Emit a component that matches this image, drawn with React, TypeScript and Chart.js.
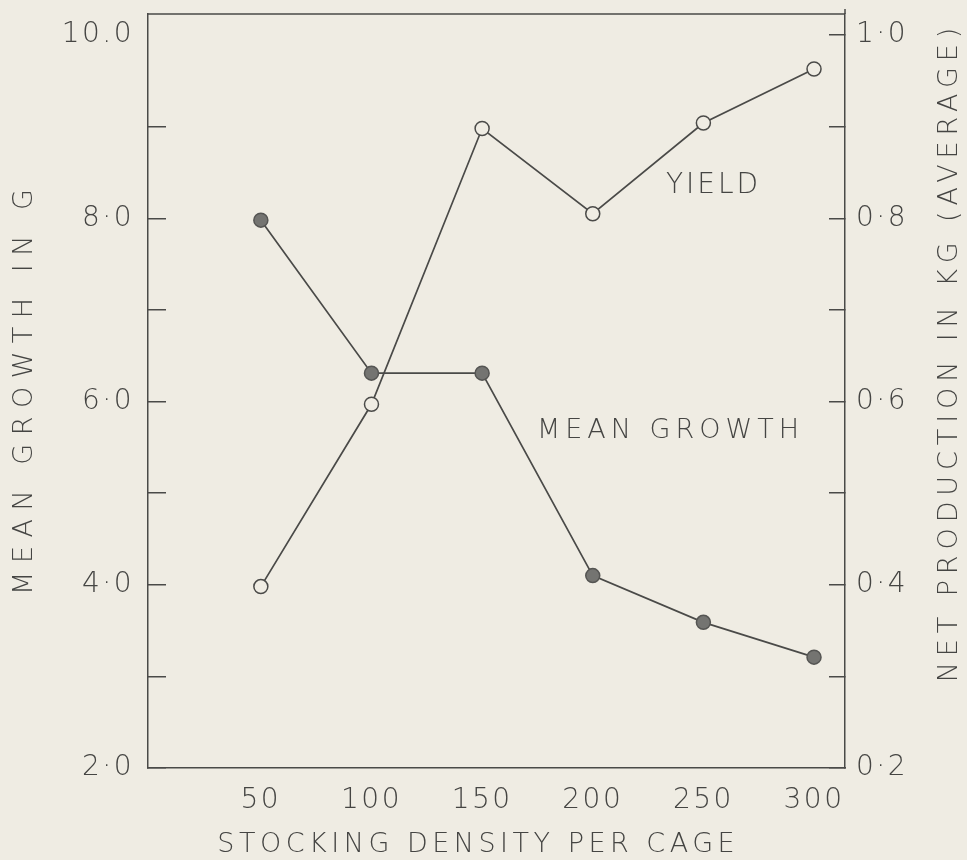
import React, { useEffect, useRef } from 'react';
import { Chart, registerables } from 'chart.js';

Chart.register(...registerables);

// ---- data ----
const density = [50, 100, 150, 200, 250, 300];
const meanGrowth = [7.98, 6.31, 6.31, 4.1, 3.59, 3.21];
const yieldKg = [0.398, 0.597, 0.898, 0.805, 0.904, 0.963];

const xTickValues = [50, 100, 150, 200, 250, 300];
const leftTickValues = [2, 3, 4, 5, 6, 7, 8, 9, 10];
const leftTickLabels = ['2·0', '', '4·0', '', '6·0', '', '8·0', '', '10.0'];
const rightTickValues = [0.2, 0.3, 0.4, 0.5, 0.6, 0.7, 0.8, 0.9, 1.0];
const rightTickLabels = ['0·2', '', '0·4', '', '0·6', '', '0·8', '', '1·0'];

const xTitle = 'STOCKING DENSITY PER CAGE';
const leftTitle = 'MEAN GROWTH IN G';
const rightTitle = 'NET PRODUCTION IN KG (AVERAGE)';
const yieldLabel = 'YIELD';
const growthLabel = 'MEAN GROWTH';

// ---- styles ----
const BG = '#efece3';
const INK = '#4a4a48';
const TEXT = '#454543';
const FONT = '"DejaVu Sans", "Liberation Sans", sans-serif';

const textPlugin = {
  id: 'texts',
  beforeUpdate(chart: any) {
    chart.ctx.letterSpacing = '2.5px';
  },
  beforeDraw(chart: any) {
    const ctx = chart.ctx;
    ctx.save();
    ctx.fillStyle = BG;
    ctx.fillRect(0, 0, chart.width, chart.height);
    ctx.restore();
    ctx.letterSpacing = '2.5px';
  },
  afterDraw(chart: any) {
    const { ctx, chartArea: a } = chart;
    ctx.save();
    ctx.strokeStyle = INK;
    ctx.lineWidth = 1.5;
    ctx.beginPath();
    ctx.moveTo(a.left, a.top);
    ctx.lineTo(a.right, a.top);
    ctx.moveTo(a.right, a.top - 5);
    ctx.lineTo(a.right, a.top);
    ctx.stroke();

    const draw = (t: string, x: number, y: number, size: number, sp: number, rot: number) => {
      ctx.save();
      ctx.translate(x, y);
      ctx.rotate(rot);
      ctx.font = `200 ${size}px ${FONT}`;
      ctx.letterSpacing = `${sp}px`;
      ctx.fillStyle = TEXT;
      ctx.textAlign = 'center';
      ctx.textBaseline = 'middle';
      ctx.fillText(t, sp / 2, 0);
      ctx.restore();
    };
    draw(xTitle, 476, 845, 27, 4.5, 0);
    draw(leftTitle, 25, 392, 27, 8.5, -Math.PI / 2);
    draw(rightTitle, 950, 355, 27, 5.9, -Math.PI / 2);
    draw(yieldLabel, 712, 186, 28, 3, 0);
    draw(growthLabel, 668, 431, 27, 5, 0);
    ctx.restore();
  },
};

export default function App() {
  const ref = useRef<HTMLCanvasElement | null>(null);
  useEffect(() => {
    if (!ref.current) return;
    const tickFont = { family: FONT, size: 28, weight: 200 as any };
    const chart = new Chart(ref.current, {
      type: 'line',
      data: {
        datasets: [
          {
            label: 'Mean growth',
            data: density.map((x, i) => ({ x, y: meanGrowth[i] })),
            yAxisID: 'y',
            borderColor: INK,
            borderWidth: 1.7,
            pointRadius: 7,
            pointBackgroundColor: '#747471',
            pointBorderColor: '#555553',
            pointBorderWidth: 1.5,
            tension: 0,
          },
          {
            label: 'Yield',
            data: density.map((x, i) => ({ x, y: yieldKg[i] })),
            yAxisID: 'y1',
            borderColor: INK,
            borderWidth: 1.7,
            pointRadius: 7,
            pointBackgroundColor: BG,
            pointBorderColor: INK,
            pointBorderWidth: 1.5,
            tension: 0,
          },
        ],
      },
      options: {
        responsive: false,
        maintainAspectRatio: false,
        animation: false,
        layout: { padding: { top: 14, left: 0, right: 0, bottom: 0 } },
        plugins: { legend: { display: false }, tooltip: { enabled: false } },
        scales: {
          x: {
            type: 'linear',
            min: -1,
            max: 314,
            afterBuildTicks: (s: any) => {
              s.ticks = xTickValues.map((v) => ({ value: v }));
            },
            afterFit: (s: any) => {
              s.height = 92;
              s.paddingLeft = 0;
              s.paddingRight = 0;
            },
            grid: { display: false },
            border: { display: true, color: INK, width: 1.5 },
            ticks: { color: TEXT, font: tickFont, padding: 8, maxRotation: 0, autoSkip: false },
          },
          y: {
            type: 'linear',
            position: 'left',
            min: 2,
            max: 10.23,
            afterBuildTicks: (s: any) => {
              s.ticks = leftTickValues.map((v) => ({ value: v }));
            },
            afterFit: (s: any) => {
              s.width = 148;
              s.paddingTop = 0;
              s.paddingBottom = 0;
            },
            grid: {
              drawOnChartArea: false,
              drawTicks: true,
              tickLength: -18,
              lineWidth: 1.5,
              color: (c: any) => (c.tick && c.tick.value >= 10 ? 'rgba(0,0,0,0)' : INK),
            },
            border: { display: true, color: INK, width: 1.5 },
            ticks: {
              color: TEXT,
              font: tickFont,
              padding: 32,
              autoSkip: false,
              callback: (v: any) => {
                const i = leftTickValues.indexOf(Number(v));
                return i >= 0 ? leftTickLabels[i] : '';
              },
            },
          },
          y1: {
            type: 'linear',
            position: 'right',
            min: 0.2,
            max: 1.023,
            afterBuildTicks: (s: any) => {
              s.ticks = rightTickValues.map((v) => ({ value: v }));
            },
            afterFit: (s: any) => {
              s.width = 122;
              s.paddingTop = 0;
              s.paddingBottom = 0;
            },
            grid: {
              drawOnChartArea: false,
              drawTicks: true,
              tickLength: -16,
              lineWidth: 1.5,
              color: INK,
            },
            border: { display: true, color: INK, width: 1.5 },
            ticks: {
              color: TEXT,
              font: tickFont,
              padding: 27,
              autoSkip: false,
              callback: (v: any) => {
                const i = rightTickValues.findIndex((r) => Math.abs(r - Number(v)) < 1e-6);
                return i >= 0 ? rightTickLabels[i] : '';
              },
            },
          },
        },
      } as any,
      plugins: [textPlugin],
    });
    return () => chart.destroy();
  }, []);

  return (
    <div style={{ position: 'fixed', left: 0, top: 0, width: 967, height: 860, background: BG }}>
      <canvas ref={ref} width={967} height={860} style={{ display: 'block', width: 967, height: 860 }} />
    </div>
  );
}
